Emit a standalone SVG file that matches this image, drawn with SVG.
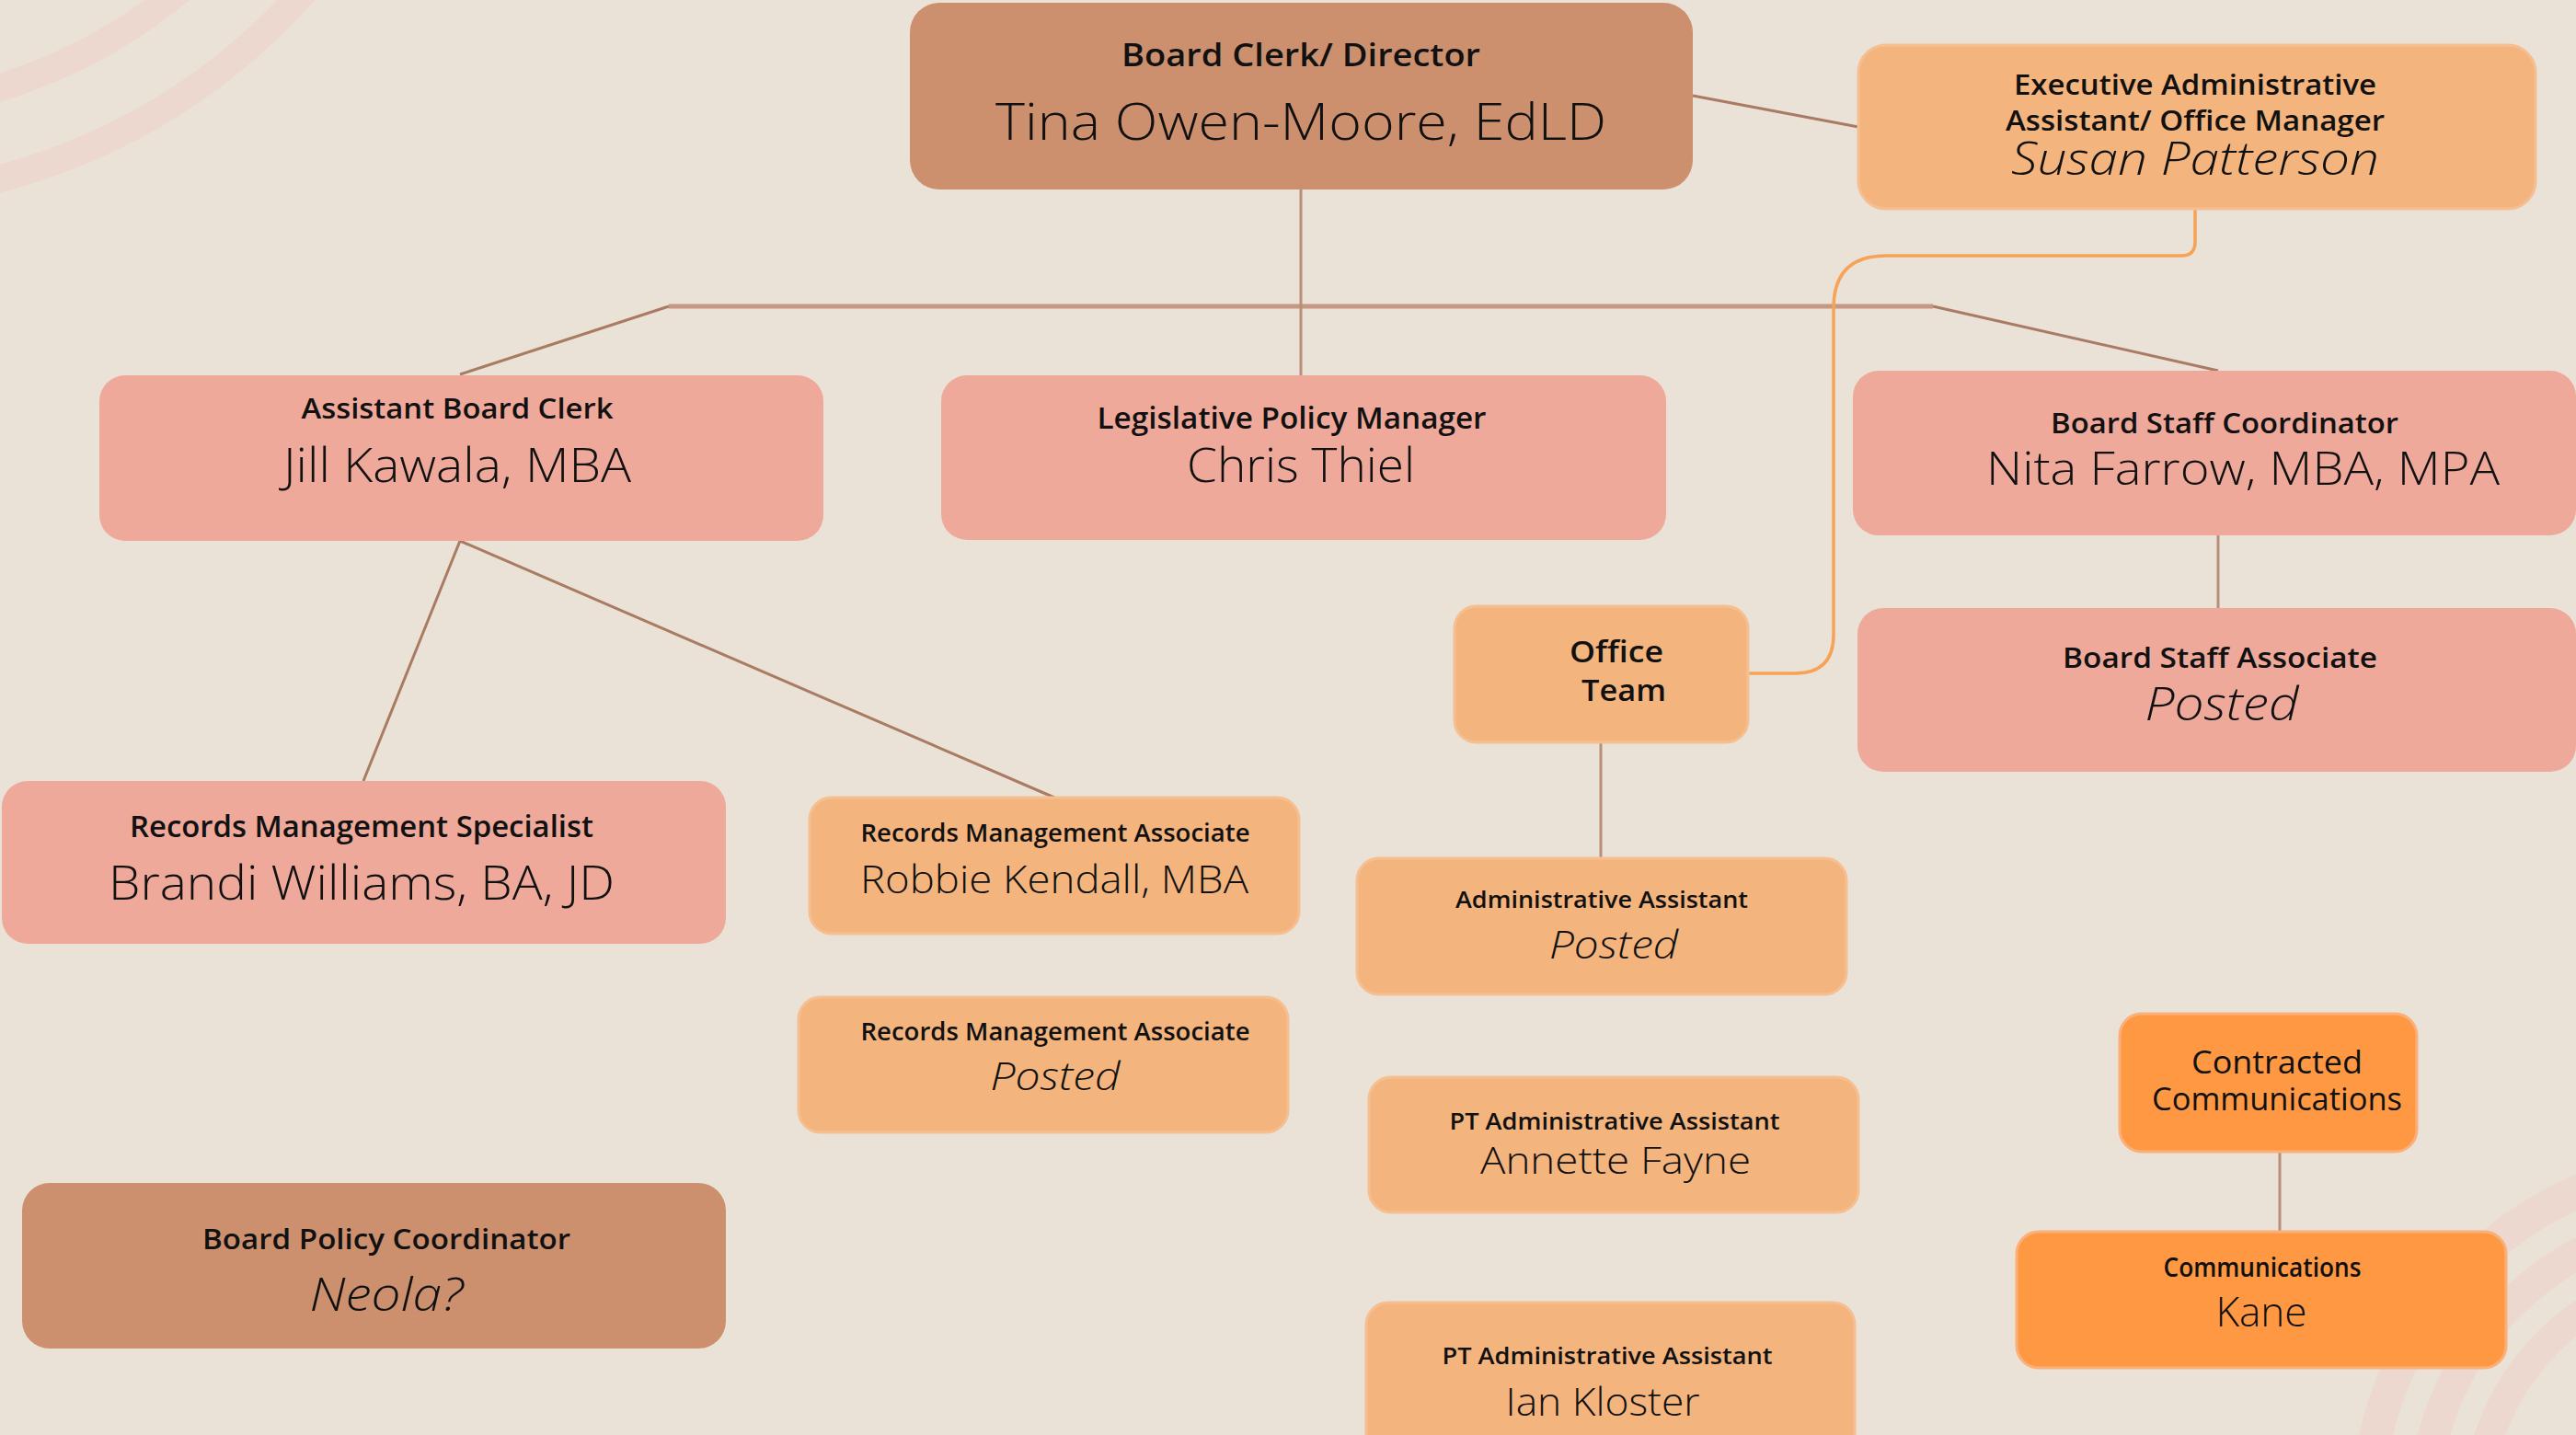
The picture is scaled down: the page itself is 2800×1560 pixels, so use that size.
<svg xmlns="http://www.w3.org/2000/svg" width="2800" height="1560" viewBox="0 0 2800 1560">
<style>
.bg{fill:#EAE1D7}
.arc{fill:none;stroke:#ECD8CF}
.brown{fill:#CC906E}
.salmon{fill:#EFA99A}
.lorange{fill:#F4B47E;stroke:#F6BF91;stroke-width:3}
.vorange{fill:#FF9843;stroke:#FBB07A;stroke-width:3}
text{font-family:"Open Sans","Liberation Sans",sans-serif;fill:#111;text-anchor:middle}
.t{font-weight:600}
.n{font-weight:300}
.r{font-weight:400}
.i{font-weight:300;font-style:italic}
.main{stroke:#C49882;stroke-width:5;fill:none}
.thin{stroke:#A97B62;stroke-width:3;fill:none}
.vert{stroke:#B88F78;stroke-width:3;fill:none}
.orange{stroke:#F7A356;stroke-width:3.5;fill:none}
</style>
<rect class="bg" x="0" y="0" width="2800" height="1560"/>
<g id="decor">
<circle class="arc" cx="-170" cy="-452" r="668" stroke-width="30"/>
<circle class="arc" cx="-170" cy="-452" r="573" stroke-width="30"/>
<circle class="arc" cx="2954" cy="1645" r="381" stroke-width="36"/>
<circle class="arc" cx="2954" cy="1645" r="320" stroke-width="34"/>
<circle class="arc" cx="2954" cy="1645" r="262" stroke-width="32"/>
</g>
<g id="connectors">
<line class="main" x1="727" y1="333" x2="2101" y2="333"/>
<line class="thin" x1="727" y1="333" x2="500" y2="407"/>
<line class="thin" x1="2101" y1="333" x2="2411" y2="403"/>
<line class="vert" x1="1414" y1="206" x2="1414" y2="408"/>
<line class="thin" x1="1840" y1="104" x2="2020" y2="138"/>
<line class="thin" x1="500" y1="588" x2="395" y2="849"/>
<line class="thin" x1="500" y1="588" x2="1146" y2="867"/>
<line class="vert" x1="2411" y1="582" x2="2411" y2="661"/>
<line class="vert" x1="1740" y1="807" x2="1740" y2="933"/>
<line class="vert" x1="2478" y1="1252" x2="2478" y2="1339" stroke="#C9A18B" stroke-width="4"/>
<path class="orange" d="M2386,227 V263 Q2386,278 2371,278 H2050 Q1993,278 1993,335 V690 Q1993,732 1951,732 H1891"/>
</g>
<g id="n-director">
<rect class="brown" x="989" y="3" width="851" height="203" rx="32"/>
<text class="t" x="1414" y="72" font-size="35" textLength="390" lengthAdjust="spacingAndGlyphs">Board Clerk/ Director</text>
<text class="n" x="1414" y="152" font-size="56" textLength="664" lengthAdjust="spacingAndGlyphs">Tina Owen-Moore, EdLD</text>
</g>
<g id="n-exec">
<rect class="lorange" x="2020" y="49" width="736" height="178" rx="30"/>
<text class="t" x="2386" y="103" font-size="31" textLength="394" lengthAdjust="spacingAndGlyphs">Executive Administrative</text>
<text class="t" x="2386" y="142" font-size="31" textLength="412" lengthAdjust="spacingAndGlyphs">Assistant/ Office Manager</text>
<text class="i" x="2386" y="190" font-size="49" textLength="400" lengthAdjust="spacingAndGlyphs">Susan Patterson</text>
</g>
<g id="n-jill">
<rect class="salmon" x="108" y="408" width="787" height="180" rx="28"/>
<text class="t" x="497" y="455" font-size="31" textLength="339" lengthAdjust="spacingAndGlyphs">Assistant Board Clerk</text>
<text class="n" x="497" y="524" font-size="52" textLength="378" lengthAdjust="spacingAndGlyphs">Jill Kawala, MBA</text>
</g>
<g id="n-chris">
<rect class="salmon" x="1023" y="408" width="788" height="179" rx="28"/>
<text class="t" x="1404" y="466" font-size="32" textLength="423" lengthAdjust="spacingAndGlyphs">Legislative Policy Manager</text>
<text class="n" x="1414" y="524" font-size="52" textLength="248" lengthAdjust="spacingAndGlyphs">Chris Thiel</text>
</g>
<g id="n-coordinator">
<rect class="salmon" x="2014" y="403" width="786" height="179" rx="28"/>
<text class="t" x="2418" y="471" font-size="30" textLength="378" lengthAdjust="spacingAndGlyphs">Board Staff Coordinator</text>
<text class="n" x="2438" y="527" font-size="49" textLength="558" lengthAdjust="spacingAndGlyphs">Nita Farrow, MBA, MPA</text>
</g>
<g id="n-associate">
<rect class="salmon" x="2019" y="661" width="781" height="178" rx="28"/>
<text class="t" x="2413" y="726" font-size="30" textLength="342" lengthAdjust="spacingAndGlyphs">Board Staff Associate</text>
<text class="i" x="2415" y="783" font-size="50" textLength="167" lengthAdjust="spacingAndGlyphs">Posted</text>
</g>
<g id="n-office">
<rect class="lorange" x="1581" y="659" width="319" height="148" rx="24"/>
<text class="t" x="1757" y="720" font-size="33" textLength="102" lengthAdjust="spacingAndGlyphs">Office</text>
<text class="t" x="1765" y="762" font-size="33" textLength="92" lengthAdjust="spacingAndGlyphs">Team</text>
</g>
<g id="n-brandi">
<rect class="salmon" x="2" y="849" width="787" height="177" rx="28"/>
<text class="t" x="393" y="910" font-size="32" textLength="504" lengthAdjust="spacingAndGlyphs">Records Management Specialist</text>
<text class="n" x="393" y="978" font-size="52" textLength="550" lengthAdjust="spacingAndGlyphs">Brandi Williams, BA, JD</text>
</g>
<g id="n-robbie">
<rect class="lorange" x="880" y="867" width="532" height="148" rx="24"/>
<text class="t" x="1147" y="915" font-size="27" textLength="423" lengthAdjust="spacingAndGlyphs">Records Management Associate</text>
<text class="n" x="1146" y="971" font-size="43" textLength="422" lengthAdjust="spacingAndGlyphs">Robbie Kendall, MBA</text>
</g>
<g id="n-rma-posted">
<rect class="lorange" x="868" y="1084" width="532" height="147" rx="24"/>
<text class="t" x="1147" y="1131" font-size="27" textLength="423" lengthAdjust="spacingAndGlyphs">Records Management Associate</text>
<text class="i" x="1147" y="1185" font-size="43" textLength="141" lengthAdjust="spacingAndGlyphs">Posted</text>
</g>
<g id="n-admin">
<rect class="lorange" x="1475" y="933" width="532" height="148" rx="24"/>
<text class="t" x="1741" y="987" font-size="25" textLength="318" lengthAdjust="spacingAndGlyphs">Administrative Assistant</text>
<text class="i" x="1754" y="1042" font-size="43" textLength="140" lengthAdjust="spacingAndGlyphs">Posted</text>
</g>
<g id="n-annette">
<rect class="lorange" x="1488" y="1171" width="532" height="147" rx="24"/>
<text class="t" x="1755" y="1228" font-size="25" textLength="359" lengthAdjust="spacingAndGlyphs">PT Administrative Assistant</text>
<text class="n" x="1756" y="1276" font-size="41" textLength="294" lengthAdjust="spacingAndGlyphs">Annette Fayne</text>
</g>
<g id="n-ian">
<rect class="lorange" x="1485" y="1416" width="531" height="170" rx="24"/>
<text class="t" x="1747" y="1483" font-size="25" textLength="359" lengthAdjust="spacingAndGlyphs">PT Administrative Assistant</text>
<text class="n" x="1742" y="1539" font-size="42" textLength="211" lengthAdjust="spacingAndGlyphs">Ian Kloster</text>
</g>
<g id="n-policy">
<rect class="brown" x="24" y="1286" width="765" height="180" rx="30"/>
<text class="t" x="420" y="1358" font-size="31" textLength="400" lengthAdjust="spacingAndGlyphs">Board Policy Coordinator</text>
<text class="i" x="420" y="1425" font-size="50" textLength="167" lengthAdjust="spacingAndGlyphs">Neola?</text>
</g>
<g id="n-contracted">
<rect class="vorange" x="2304" y="1102" width="323" height="150" rx="24"/>
<text class="r" x="2475" y="1167" font-size="35" textLength="186" lengthAdjust="spacingAndGlyphs">Contracted</text>
<text class="r" x="2475" y="1207" font-size="35" textLength="272" lengthAdjust="spacingAndGlyphs">Communications</text>
</g>
<g id="n-kane">
<rect class="vorange" x="2192" y="1339" width="532" height="148" rx="24"/>
<text class="t" x="2459" y="1388" font-size="28" textLength="215" lengthAdjust="spacingAndGlyphs">Communications</text>
<text class="n" x="2458" y="1442" font-size="44" textLength="99" lengthAdjust="spacingAndGlyphs">Kane</text>
</g>
</svg>
